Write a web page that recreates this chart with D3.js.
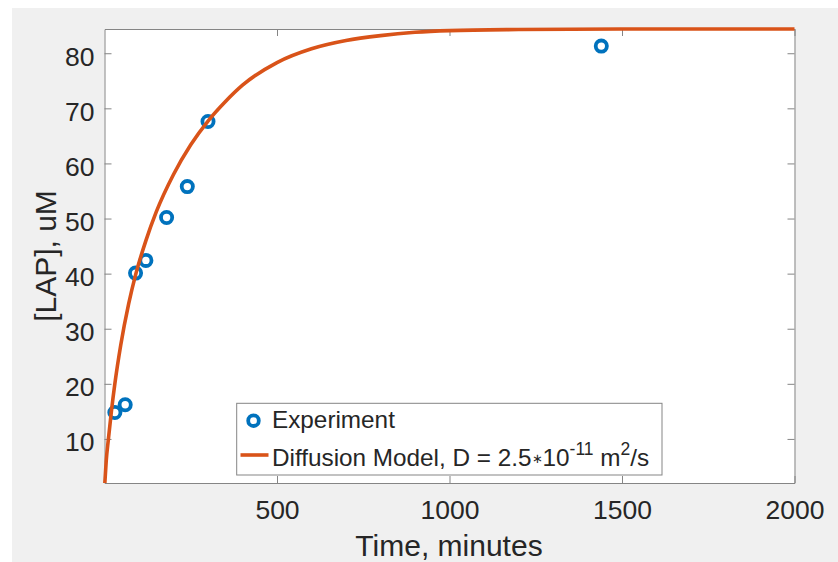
<!DOCTYPE html>
<html>
<head>
<meta charset="utf-8">
<script src="https://cdn.jsdelivr.net/npm/d3@7"></script>
<style>
  html, body { margin: 0; padding: 0; background: #ffffff; }
  svg { display: block; }
  text { font-family: "Liberation Sans", Arial, Helvetica, sans-serif; fill: #262626; }
</style>
</head>
<body>
<svg id="chart" width="838" height="562"></svg>
<script>
// ---- data ----
const expTime = [30, 60, 90, 120, 180, 240, 300, 1440];
const expConc = [14.8, 16.2, 40.1, 42.4, 50.2, 55.8, 67.6, 81.3];

const modelTime = [1, 5, 11, 20, 30, 47, 70, 91, 120, 150, 200, 250, 300, 350, 400, 500, 600, 700, 800, 900, 1000, 1200, 1500, 2000];
const modelConc = [2.0, 6.0, 9.8, 15.0, 20.0, 27.0, 34.5, 40.0, 46.0, 51.2, 58.0, 63.4, 67.7, 71.2, 74.2, 78.3, 80.8, 82.3, 83.2, 83.8, 84.1, 84.3, 84.4, 84.4];

const xTicks = [500, 1000, 1500, 2000];
const yTicks = [10, 20, 30, 40, 50, 60, 70, 80];

const xLabel = "Time, minutes";
const yLabel = "[LAP], uM";
const legendNames = ["Experiment", "Diffusion Model, D = 2.5"];

// ---- layout ----
const svg = d3.select("#chart");
const W = 838, H = 562;
const pLeft = 104.5, pRight = 794.5, pTop = 29, pBottom = 483;
const blue = "#0072BD", orange = "#D95319", axisCol = "#858585";
const tickFont = 26.5, labelFont = 30, legFont = 24.3;

// figure background
svg.append("rect").attr("x", 0).attr("y", 0).attr("width", W).attr("height", H).attr("fill", "#ffffff");
svg.append("rect").attr("x", 12).attr("y", 8).attr("width", W - 12).attr("height", H - 8).attr("fill", "#f0f0f0");

const x = d3.scaleLinear().domain([0, 2000]).range([pLeft, pRight]);
const y = d3.scaleLinear().domain([2, 84.4]).range([pBottom, pTop]);

// axes background
svg.append("rect").attr("x", pLeft).attr("y", pTop).attr("width", pRight - pLeft).attr("height", pBottom - pTop).attr("fill", "#ffffff");

function styleAxis(g) {
  g.select(".domain").attr("stroke", axisCol).attr("stroke-width", 1);
  g.selectAll(".tick line").attr("stroke", axisCol).attr("stroke-width", 1);
}

// bottom axis
const gx = svg.append("g").attr("transform", `translate(0,${pBottom})`)
  .call(d3.axisBottom(x).tickValues(xTicks).tickSizeInner(-7).tickSizeOuter(0).tickPadding(17).tickFormat(d3.format("d")));
styleAxis(gx);
gx.selectAll(".tick text").attr("font-size", tickFont).attr("fill", "#262626").attr("font-family", "Liberation Sans, Arial, sans-serif");

// top axis (ticks only)
const gxt = svg.append("g").attr("transform", `translate(0,${pTop})`)
  .call(d3.axisTop(x).tickValues(xTicks).tickSizeInner(-7).tickSizeOuter(0).tickFormat(""));
styleAxis(gxt);

// left axis
const gy = svg.append("g").attr("transform", `translate(${pLeft},0)`)
  .call(d3.axisLeft(y).tickValues(yTicks).tickSizeInner(-7).tickSizeOuter(0).tickPadding(10).tickFormat(d3.format("d")));
styleAxis(gy);
gy.selectAll(".tick text").attr("font-size", tickFont).attr("fill", "#262626").attr("dy", "0.45em").attr("font-family", "Liberation Sans, Arial, sans-serif");

// right axis (ticks only)
const gyr = svg.append("g").attr("transform", `translate(${pRight},0)`)
  .call(d3.axisRight(y).tickValues(yTicks).tickSizeInner(-7).tickSizeOuter(0).tickFormat(""));
styleAxis(gyr);

// axis labels
svg.append("text").attr("x", 449).attr("y", 556).attr("text-anchor", "middle")
  .attr("font-size", labelFont).text(xLabel);
svg.append("text").attr("transform", `translate(56,${(pTop + pBottom) / 2}) rotate(-90)`).attr("text-anchor", "middle")
  .attr("font-size", labelFont).text(yLabel);

// experiment markers
const expData = expTime.map((t, i) => ({ t, c: expConc[i] }));
svg.append("g").selectAll("circle").data(expData).join("circle")
  .attr("cx", d => x(d.t)).attr("cy", d => y(d.c)).attr("r", 5.6)
  .attr("fill", "none").attr("stroke", blue).attr("stroke-width", 3.8);

// model curve
const modelData = modelTime.map((t, i) => ({ t, c: modelConc[i] }));
const line = d3.line().x(d => x(d.t)).y(d => y(d.c)).curve(d3.curveMonotoneX);
svg.append("path").datum(modelData).attr("d", line)
  .attr("fill", "none").attr("stroke", orange).attr("stroke-width", 3.6).attr("stroke-linejoin", "round");

// legend
const lg = svg.append("g");
lg.append("rect").attr("x", 236.7).attr("y", 403.3).attr("width", 425.3).attr("height", 71.7)
  .attr("fill", "#ffffff").attr("stroke", axisCol).attr("stroke-width", 1);
lg.append("circle").attr("cx", 253.5).attr("cy", 420.7).attr("r", 5.3)
  .attr("fill", "none").attr("stroke", blue).attr("stroke-width", 3.8);
lg.append("line").attr("x1", 240.5).attr("x2", 268.5).attr("y1", 455).attr("y2", 455)
  .attr("stroke", orange).attr("stroke-width", 3.6);
lg.append("text").attr("x", 272).attr("y", 428.3).attr("font-size", legFont).text(legendNames[0]);
const t2 = lg.append("text").attr("x", 272).attr("y", 465.7).attr("font-size", legFont);
t2.append("tspan").text(legendNames[1]);
t2.append("tspan").attr("font-size", legFont * 0.55).attr("dy", -3).text("\u2217");
t2.append("tspan").attr("dy", 3).text("10");
t2.append("tspan").attr("font-size", legFont * 0.72).attr("dy", -10.5).text("-11");
t2.append("tspan").attr("dy", 10.5).text(" m");
t2.append("tspan").attr("font-size", legFont * 0.72).attr("dy", -10.5).text("2");
t2.append("tspan").attr("dy", 10.5).text("/s");
</script>
</body>
</html>
